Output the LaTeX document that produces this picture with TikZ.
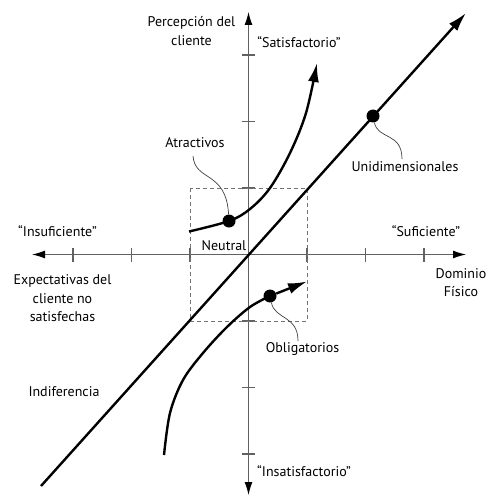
\documentclass[tikz,border=0pt]{standalone}
\usepackage{fontspec}
\setmainfont{PT Sans}
\usetikzlibrary{arrows.meta}
\begin{document}
\begin{tikzpicture}[x=1pt,y=-1pt,
  axis/.style={draw=black!62, line width=1.1pt},
  axtip/.style={-{Latex[length=13pt,width=8pt,color=black]}},
  tick/.style={draw=black!62, line width=1.1pt},
  curve/.style={draw=black, line width=2.4pt},
  ctip/.style={-{Latex[length=19pt,width=11pt]}},
  leader/.style={draw=black!75, line width=0.7pt},
  lbl/.style={font=\fontsize{14}{18.5}\selectfont, text=black, inner sep=0pt, align=center},
  dot/.style={circle, fill=black, minimum size=13pt, inner sep=0pt},
  box/.style={draw=black!55, dash pattern=on 4pt off 3pt, line width=1pt}
]
\useasboundingbox (0,0) rectangle (487,497);

% axes
\coordinate (O) at (248.5,254.5);
\coordinate (xl) at (32,254.5);
\coordinate (xr) at (466,254.5);
\coordinate (yt) at (248.5,12);
\coordinate (yb) at (248.5,495);
\draw[axis, axtip] (O) -- (xr);
\draw[axis, axtip] (O) -- (xl);
\draw[axis, axtip] (O) -- (yt);
\draw[axis, axtip] (O) -- (yb);

% ticks
\foreach \x in {73,131.5,190,307,365.5,424}
  \draw[tick] (\x,247.5) -- (\x,261.5);
\foreach \y in {55,121.5,188,321,387.5,454}
  \draw[tick] (242,\y) -- (255,\y);

% dashed neutral box
\draw[box] (190,188) rectangle (307,321);

% main line (unidimensional)
\coordinate (ms) at (41,486);
\coordinate (me) at (466,13);
\draw[curve, ctip] (ms) -- (me);
\node[dot] (dU) at (373,116) {};

% attractive curve
\node[dot] (dA) at (229,221) {};
\draw[curve, ctip] plot[smooth, tension=0.55] coordinates
  {(189,231.5) (dA) (250,209) (270,188) (290,153) (306,113) (317,63)};

% must-be curve
\node[dot] (dO) at (270,296) {};
\draw[curve] plot[smooth, tension=0.55] coordinates
  {(164,455) (170,413) (183,380) (203,353) (227,327) (250,307) (dO)};
\draw[curve, ctip] (dO) -- (307,281.5);

% labels
\node[lbl] (percep) at (191.5,31) {Percepción del\\cliente};
\node[lbl] (satis) at (299,42) {“Satisfactorio”};
\node[lbl] (atract) at (195,143) {Atractivos};
\node[lbl] (unid) at (405,167) {Unidimensionales};
\node[lbl] (insuf) at (57.5,231.5) {“Insuficiente”};
\node[lbl] (suf) at (426,231.5) {“Suficiente”};
\node[lbl] (neutral) at (224,246) {Neutral};
\node[lbl] (expect) at (62.5,298.5) {Expectativas del\\cliente no\\satisfechas};
\node[lbl] (domin) at (461,282.5) {Dominio\\Físico};
\node[lbl] (oblig) at (302.5,348.5) {Obligatorios};
\node[lbl] (indif) at (64,391.5) {Indiferencia};
\node[lbl] (insat) at (304,471.5) {“Insatisfactorio”};

% leaders
\coordinate (lA) at (193,156);
\coordinate (lU) at (402,159);
\coordinate (lO) at (298,341);
\draw[leader] (lA) .. controls (195,182) and (226,170) .. (dA);
\draw[leader] (dU) .. controls (378,140) and (402,132) .. (lU);
\draw[leader] (dO) .. controls (275,320) and (298,315) .. (lO);
\end{tikzpicture}
\end{document}
